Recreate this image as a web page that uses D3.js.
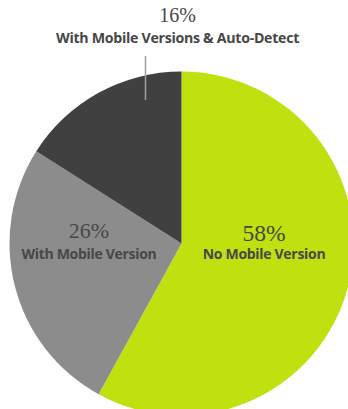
<!DOCTYPE html>
<html>
<head>
<meta charset="utf-8">
<script src="https://cdn.jsdelivr.net/npm/d3@7"></script>
<style>
  body { margin: 0; background: #fff; }
  svg { display: block; }
  .pct { font-family: "Liberation Serif", serif; fill: #474747; text-anchor: middle; }
  .lbl { font-family: "Open Sans", sans-serif; font-weight: 700; fill: #474747; text-anchor: middle; letter-spacing: -0.3px; }
</style>
</head>
<body>
<div id="chart"></div>
<script>
// slice data, clockwise from 12 o'clock
var categories = ["No Mobile Version", "With Mobile Version", "With Mobile Versions & Auto-Detect"]
var values = [58, 26, 16]
var colors = ["#c0e00f", "#8c8c8c", "#404040"]

var width = 348, height = 409
var cx = 181.5, cy = 243.5, radius = 172

var svg = d3.select("#chart").append("svg")
    .attr("width", width)
    .attr("height", height)

var pie = d3.pie().sort(null).value(d => d.value)
var arc = d3.arc().innerRadius(0).outerRadius(radius)

var data = categories.map((c, i) => ({ name: c, value: values[i], color: colors[i] }))
var arcs = pie(data)

var g = svg.append("g").attr("transform", "translate(" + cx + "," + cy + ")")

g.selectAll("path")
    .data(arcs)
    .enter()
    .append("path")
    .attr("d", arc)
    .attr("fill", d => d.data.color)

// label placement (relative to centre) per slice
var labelPos = [
    { x: 82.5, y: 0, pctSize: 23.5, lblSize: 14 },
    { x: -92.5, y: 0, pctSize: 22, lblSize: 14 },
    { x: -4, y: -216, pctSize: 20, lblSize: 14.2 }
]

// leader line for the small top slice
var lineX = 145.5 - cx
g.append("line")
    .attr("x1", lineX).attr("x2", lineX)
    .attr("y1", 56 - cy).attr("y2", 100 - cy)
    .attr("stroke", "#a0a0a0")
    .attr("stroke-width", 1.5)

var labels = g.selectAll(".label")
    .data(arcs)
    .enter()
    .append("g")
    .attr("class", "label")
    .attr("transform", (d, i) => "translate(" + labelPos[i].x + "," + labelPos[i].y + ")")

labels.append("text")
    .attr("class", "pct")
    .attr("y", (d, i) => i == 0 ? -2.5 : -5.5)
    .style("font-size", (d, i) => labelPos[i].pctSize + "px")
    .text(d => d.data.value + "%")

labels.append("text")
    .attr("class", "lbl")
    .attr("y", 15)
    .style("font-size", (d, i) => labelPos[i].lblSize + "px")
    .text(d => d.data.name)
</script>
</body>
</html>
